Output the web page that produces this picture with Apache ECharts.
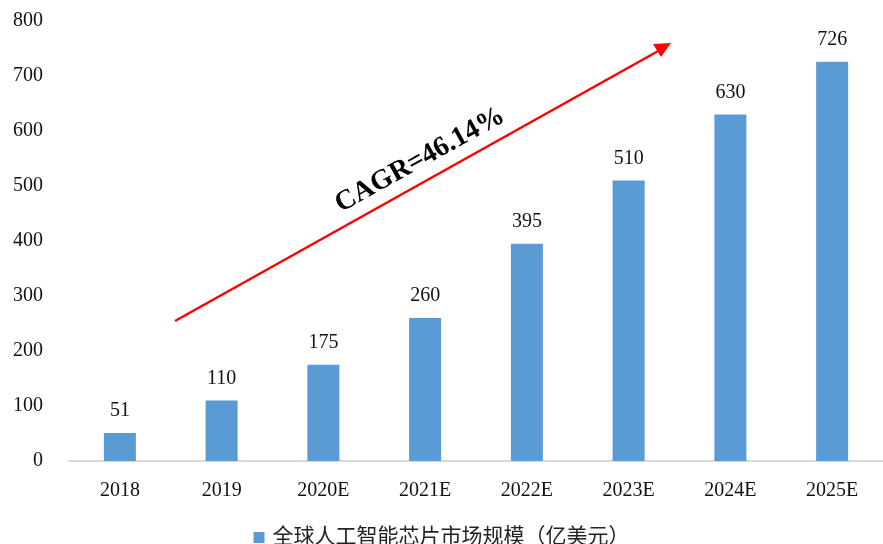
<!DOCTYPE html>
<html>
<head>
<meta charset="utf-8">
<script src="https://cdn.jsdelivr.net/npm/echarts@6/dist/echarts.min.js"></script>
<style>
  html, body { margin: 0; padding: 0; background: #fff; }
  #chart { width: 883px; height: 544px; }
</style>
</head>
<body>
<div id="chart"></div>
<script>
const categories = ['2018', '2019', '2020E', '2021E', '2022E', '2023E', '2024E', '2025E']
const marketSize = [51, 110, 175, 260, 395, 510, 630, 726]
const seriesName = '全球人工智能芯片市场规模（亿美元）'
const cagrText = 'CAGR=46.14%'

const serif = '"Liberation Serif", "Times New Roman", "Noto Sans CJK SC", serif'

const chart = echarts.init(document.getElementById('chart'))

const option = {
  backgroundColor: '#fff',
  animation: false,
  textStyle: { fontFamily: serif },
  grid: { left: 69, width: 816, top: 21, height: 440 },
  legend: {
    top: 522,
    left: 'center',
    itemWidth: 11,
    itemHeight: 11,
    icon: 'rect',
    textStyle: { fontFamily: serif, fontSize: 21, color: '#222', padding: [0, 0, 0, 3] },
    data: [seriesName]
  },
  xAxis: {
    type: 'category',
    data: categories,
    axisLine: { lineStyle: { color: '#d9d9d9', width: 2 } },
    axisTick: { show: false },
    axisLabel: { color: '#111', fontSize: 20, margin: 20, fontFamily: serif }
  },
  yAxis: {
    type: 'value',
    min: 0,
    max: 800,
    interval: 100,
    splitLine: { show: false },
    axisLine: { show: false },
    axisTick: { show: false },
    axisLabel: { color: '#111', fontSize: 20, margin: 26, fontFamily: serif }
  },
  series: [{
    name: seriesName,
    type: 'bar',
    data: marketSize,
    barWidth: 32,
    itemStyle: { color: '#5B9BD5' },
    label: {
      show: true,
      position: 'top',
      distance: 12,
      color: '#111',
      fontSize: 20,
      fontFamily: serif
    }
  }],
  graphic: [
    {
      type: 'line',
      shape: { x1: 175, y1: 321, x2: 660, y2: 50 },
      style: { stroke: '#ff0000', lineWidth: 2.5 }
    },
    {
      type: 'polygon',
      shape: { points: [[671, 43], [653, 44], [661, 57]] },
      style: { fill: '#ff0000' }
    },
    {
      type: 'text',
      x: 420,
      y: 160,
      rotation: 29.1 * Math.PI / 180,
      style: {
        text: cagrText,
        fontFamily: serif,
        fontWeight: 'bold',
        fontSize: 28,
        fill: '#000',
        align: 'center',
        verticalAlign: 'middle'
      }
    }
  ]
}

chart.setOption(option)
</script>
</body>
</html>
